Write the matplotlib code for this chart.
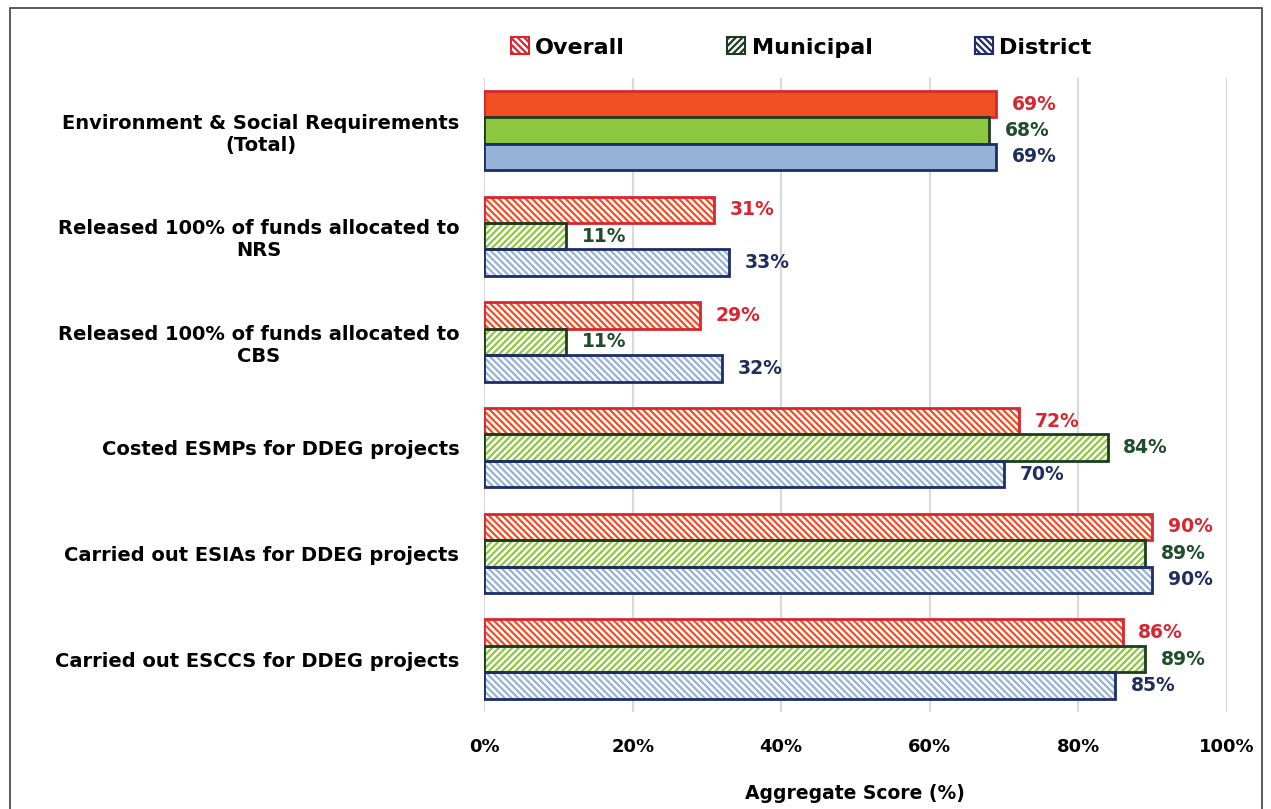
import matplotlib.pyplot as plt
import numpy as np
from matplotlib.patches import Patch, Rectangle

### Data

categories = [
    'Environment & Social Requirements\n(Total)',
    'Released 100% of funds allocated to\nNRS',
    'Released 100% of funds allocated to\nCBS',
    'Costed ESMPs for DDEG projects',
    'Carried out ESIAs for DDEG projects',
    'Carried out ESCCS for DDEG projects',
]
series_names = ['Overall', 'Municipal', 'District']
overall = [69, 31, 29, 72, 90, 86]
municipal = [68, 11, 11, 84, 89, 89]
district = [69, 33, 32, 70, 90, 85]
x_ticks = [0, 20, 40, 60, 80, 100]

### Style

plt.rcParams['font.family'] = ['DejaVu Sans']
plt.rcParams['hatch.linewidth'] = 1.6

fills = ['#F04E23', '#8DC63F', '#95B3D7']
edges = ['#D7262F', '#1B3D1F', '#1F2D66']
text_colors = ['#D7262F', '#1E4D2B', '#1F2D5F']
hatches = ['\\\\\\\\\\', '/////', '\\\\\\\\\\']

### Figure

fig = plt.figure(figsize=(12.71, 8.09), dpi=100)
ax = fig.add_axes([0.381, 0.12, 0.584, 0.784])

y = np.arange(len(categories))
h = 0.25
offsets = [-h, 0, h]

for k, vals in enumerate([overall, municipal, district]):
    pos = y + offsets[k]
    # first row is solid, the rest hatched (coloured stripes on white)
    ax.barh(pos[:1], vals[:1], height=h, color=fills[k],
            edgecolor=edges[k], linewidth=2, zorder=3)
    ax.barh(pos[1:], vals[1:], height=h, color='white',
            edgecolor=fills[k], hatch=hatches[k], linewidth=0, zorder=3)
    ax.barh(pos[1:], vals[1:], height=h, color='none',
            edgecolor=edges[k], linewidth=2, zorder=4)
    for p, v in zip(pos, vals):
        ax.text(v + 2.1, p, f'{v}%', va='center', ha='left',
                fontsize=13.5, fontweight='bold', color=text_colors[k])

ax.set_ylim(5.5, -0.5)
ax.set_xlim(0, 100)
ax.set_yticks(y)
ax.set_yticklabels(categories, fontsize=14, fontweight='bold',
                   multialignment='center')
ax.set_xticks(x_ticks)
ax.set_xticklabels([f'{t}%' for t in x_ticks], fontsize=13, fontweight='bold')
ax.tick_params(axis='y', length=0, pad=18)
ax.tick_params(axis='x', length=0, pad=19)
ax.grid(axis='x', color='#D9D9D9', linewidth=1.5, zorder=0)
for s in ax.spines.values():
    s.set_visible(False)

ax.set_xlabel('Aggregate Score (%)', fontsize=13.5, fontweight='bold', labelpad=20)

handles = [
    Patch(facecolor='white', edgecolor=fills[k], hatch=hatches[k], linewidth=0)
    for k in range(3)
]
leg = ax.legend(handles, series_names, loc='lower center',
                bbox_to_anchor=(0.427, 1.0), ncol=3, frameon=False,
                fontsize=16, handlelength=0.8, handleheight=0.8,
                handletextpad=0.3, columnspacing=4.6)
for t in leg.get_texts():
    t.set_fontweight('bold')
for hp, ec in zip(leg.get_patches(), edges):
    hp.set_edgecolor(ec)
    hp.set_linewidth(1.5)

# outer frame
fig.patches.append(Rectangle((0.008, -0.01), 0.985, 1.0, transform=fig.transFigure,
                             fill=False, edgecolor='#404040', linewidth=1.2))

fig.savefig('out.png', dpi=100)
plt.close(fig)
